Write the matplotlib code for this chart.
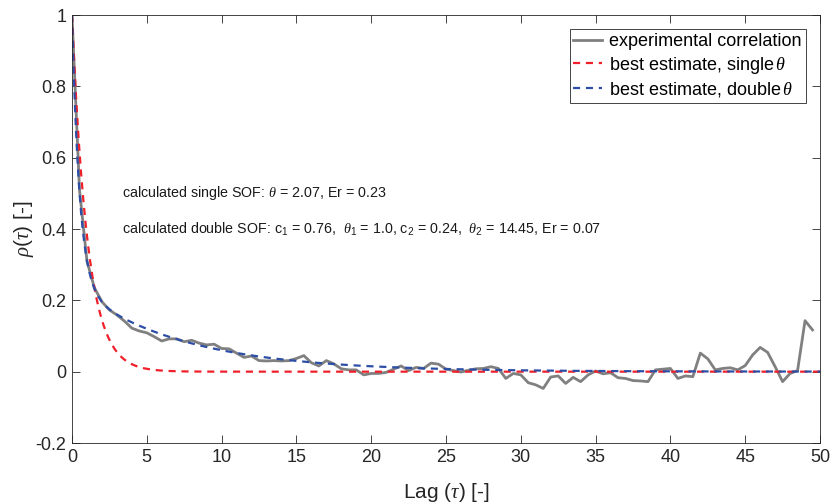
import numpy as np
import matplotlib
matplotlib.use("Agg")
import matplotlib.pyplot as plt
from matplotlib.font_manager import findfont, FontProperties

plt.rcParams['mathtext.fontset'] = 'custom'
plt.rcParams['mathtext.rm'] = 'Liberation Sans'
plt.rcParams['mathtext.it'] = 'Liberation Serif:italic'
plt.rcParams['mathtext.bf'] = 'Liberation Sans:bold'
plt.rcParams['font.family'] = ['Liberation Sans', 'DejaVu Sans']

# Experimental correlation, sampled every 0.5 lag units
lag = np.arange(0, 50, 0.5)
rho_exp = [
    1.000, 0.510, 0.310, 0.235, 0.196, 0.173, 0.159, 0.142, 0.122, 0.114,
    0.109, 0.098, 0.086, 0.092, 0.092, 0.084, 0.088, 0.080, 0.075, 0.077,
    0.065, 0.064, 0.052, 0.040, 0.044, 0.031, 0.030, 0.031, 0.030, 0.031,
    0.037, 0.045, 0.025, 0.016, 0.031, 0.022, 0.008, 0.005, 0.005, -0.009,
    -0.005, -0.005, -0.002, 0.007, 0.016, 0.003, 0.012, 0.009, 0.024, 0.021,
    0.007, 0.003, -0.001, 0.004, 0.008, 0.009, 0.014, 0.009, -0.019, -0.005,
    -0.009, -0.031, -0.037, -0.047, -0.015, -0.012, -0.033, -0.016, -0.028, -0.009,
    0.002, -0.006, -0.003, -0.017, -0.019, -0.025, -0.026, -0.028, 0.005, 0.007,
    0.009, -0.019, -0.012, -0.014, 0.052, 0.036, 0.005, 0.009, 0.011, 0.005,
    0.017, 0.047, 0.068, 0.054, 0.014, -0.028, -0.005, 0.003, 0.143, 0.117,
]

# Fitted scales of fluctuation (Markov correlation model)
theta_single = 2.07
err_single = 0.23
c1, theta1, c2, theta2 = 0.76, 1.0, 0.24, 14.45
err_double = 0.07

tau = np.linspace(0, 50, 1001)
rho_single = np.exp(-2 * tau / theta_single)
rho_double = c1 * np.exp(-2 * tau / theta1) + c2 * np.exp(-2 * tau / theta2)

narrow = 'Liberation Sans Narrow'
try:
    findfont(FontProperties(family=narrow), fallback_to_default=False)
    tick_family = [narrow, 'Liberation Sans']
except Exception:
    tick_family = ['Liberation Sans']

fig = plt.figure(figsize=(8.33, 5.04), dpi=100)
ax = fig.add_axes([72 / 833, 1 - 443 / 504, (820 - 72) / 833, (443 - 15) / 504])

ax.plot(lag, rho_exp, color=(0.5, 0.5, 0.5), lw=2.0, label='experimental correlation')
ax.plot(tau, rho_single, color='#f0202a', lw=1.6, ls=(0, (3.2, 2.6)),
        label=r'best estimate, single$\,\theta$')
ax.plot(tau, rho_double, color='#2d4ea6', lw=1.6, ls=(0, (3.2, 2.6)),
        label=r'best estimate, double$\,\theta$')

ax.set_xlim(0, 50)
ax.set_ylim(-0.2, 1.0)
ax.set_xticks(np.arange(0, 51, 5))
ax.set_yticks([-0.2, 0, 0.2, 0.4, 0.6, 0.8, 1.0])
ax.set_yticklabels(['-0.2', '0', '0.2', '0.4', '0.6', '0.8', '1'])

ax.tick_params(direction='in', length=6, width=0.6, top=True, right=True,
               colors='#262626', labelsize=13, pad=4)
for lbl in ax.get_xticklabels() + ax.get_yticklabels():
    lbl.set_family(tick_family)
    lbl.set_color('#262626')
for sp in ax.spines.values():
    sp.set_linewidth(0.6)
    sp.set_color('#262626')

ax.set_xlabel(r'Lag ($\tau$) [-]', fontsize=15, family=tick_family, color='#262626', labelpad=11)
ax.set_ylabel(r'$\rho$($\tau$) [-]', fontsize=15, family=tick_family, color='#262626', labelpad=0)

ax.text(3.35, 0.50,
        r'calculated single SOF: $\theta$ = %.2f, Er = %.2f' % (theta_single, err_single),
        fontsize=10.3, va='center', ha='left', color='#1a1a1a')
ax.text(3.35, 0.40,
        r'calculated double SOF: c$_1$ = %.2f,  $\theta_1$ = %.1f, c$_2$ = %.2f,  $\theta_2$ = %.2f, Er = %.2f'
        % (c1, theta1, c2, theta2, err_double),
        fontsize=10.3, va='center', ha='left', color='#1a1a1a')

leg = ax.legend(loc='upper right', fontsize=13, frameon=True, fancybox=False,
                edgecolor='#262626', framealpha=1, handlelength=1.6, handletextpad=0.4,
                borderpad=0.2, labelspacing=0.25, borderaxespad=0.8)
leg.get_frame().set_linewidth(0.6)

fig.savefig('out.png', dpi=100)
